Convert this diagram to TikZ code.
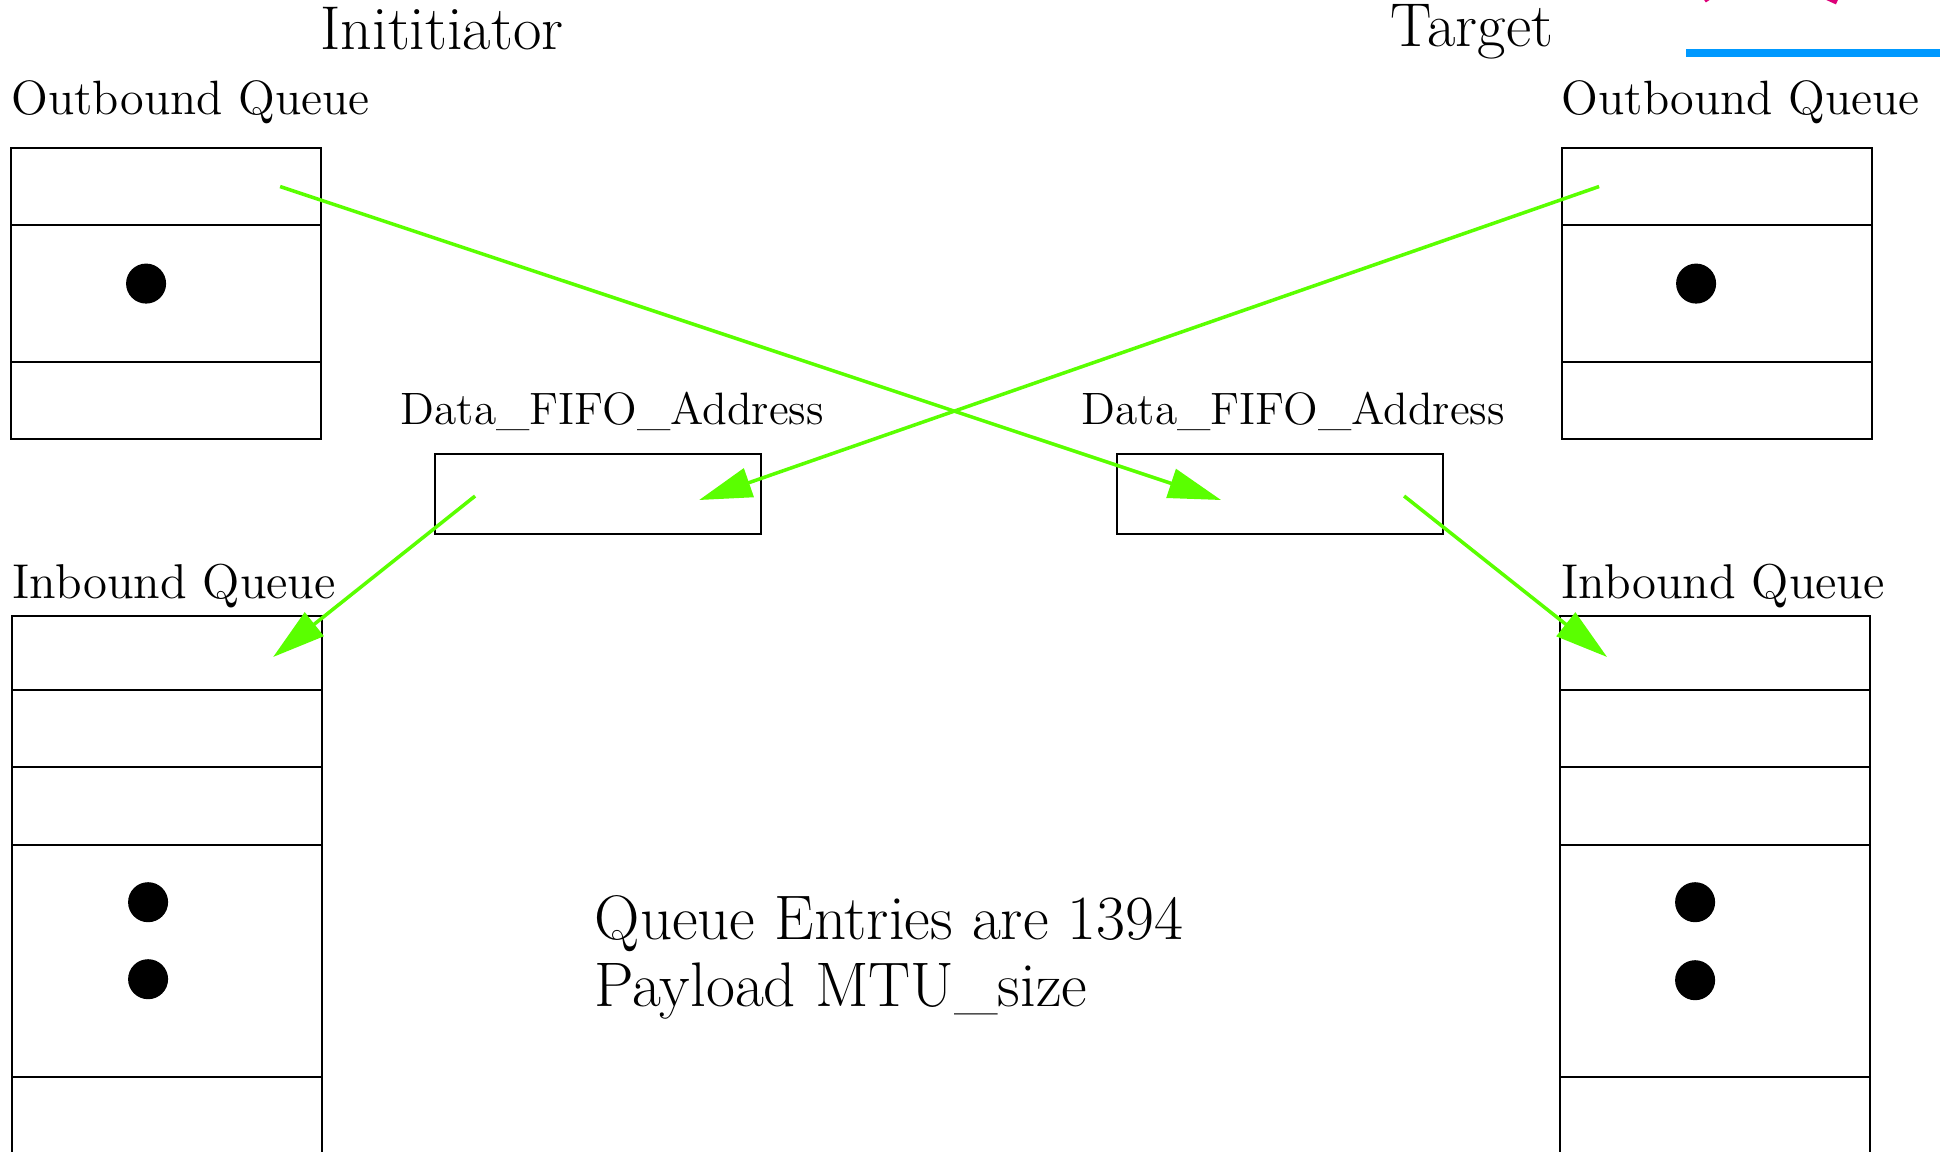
\documentclass[tikz,border=0pt]{standalone}
\usepackage{tikz}
\usetikzlibrary{arrows.meta,positioning,calc}
\definecolor{flowgreen}{RGB}{90,255,0}
\definecolor{markblue}{RGB}{0,153,255}
\definecolor{markpink}{RGB}{220,0,120}

\begin{document}
\begin{tikzpicture}[
  x=0.01cm, y=-0.01cm,
  node distance=0pt,
  cell/.style={rectangle, draw, line width=0.6pt, inner sep=0pt, outer sep=0pt, minimum width=31mm},
  fifo/.style={rectangle, draw, line width=0.6pt, inner sep=0pt, outer sep=0pt, minimum width=32.6mm, minimum height=8mm},
  qlabel/.style={anchor=base west, inner sep=0pt, font=\fontsize{13.7}{16}\selectfont},
  sidetitle/.style={anchor=base, inner sep=0pt, font=\fontsize{17.6}{20}\selectfont},
  qdot/.style={circle, fill, inner sep=0pt, minimum size=4mm},
  flow/.style={-{Triangle[length=15pt, width=8.5pt]}, line width=1pt, flowgreen}
]
\useasboundingbox (0,0) rectangle (1940,1152);
\node[sidetitle] (init) at (442,50) {Inititiator};
\node[sidetitle] (targ) at (1472,47) {Target};
\node[qlabel] (loutlbl) at (11,115) {Outbound Queue};
\node[qlabel] (routlbl) at (1561,115) {Outbound Queue};
\node[cell, minimum height=7.7mm, anchor=north west] (lout1) at (11,148) {};
\node[cell, minimum height=13.7mm, below=of lout1] (lout2) {};
\node[cell, minimum height=7.7mm, below=of lout2] (lout3) {};
\node[cell, minimum height=7.7mm, anchor=north west] (rout1) at (1562,148) {};
\node[cell, minimum height=13.7mm, below=of rout1] (rout2) {};
\node[cell, minimum height=7.7mm, below=of rout2] (rout3) {};
\node[qdot] (loutdot) at ($(lout2.center)+(-20,-10)$) {};
\node[qdot] (routdot) at ($(rout2.center)+(-21,-10)$) {};
\node[qlabel, font=\fontsize{12.9}{16}\selectfont] (lfifolbl) at (400,425) {Data\_FIFO\_Address};
\node[qlabel, font=\fontsize{12.9}{16}\selectfont] (rfifolbl) at (1081,425) {Data\_FIFO\_Address};
\node[fifo, anchor=north west] (lfifo) at (435,454) {};
\node[fifo, anchor=north west] (rfifo) at (1117,454) {};
\node[qlabel, font=\fontsize{13.9}{16}\selectfont] (linlbl) at (12,598) {Inbound Queue};
\node[qlabel, font=\fontsize{13.9}{16}\selectfont] (rinlbl) at (1561,598) {Inbound Queue};
\node[cell, minimum height=7.4mm, anchor=north west] (lin1) at (12,616) {};
\node[cell, minimum height=7.7mm, below=of lin1] (lin2) {};
\node[cell, minimum height=7.8mm, below=of lin2] (lin3) {};
\node[cell, minimum height=23.2mm, below=of lin3] (lin4) {};
\node[cell, minimum height=10mm, below=of lin4] (lin5) {};
\node[cell, minimum height=7.4mm, anchor=north west] (rin1) at (1560,616) {};
\node[cell, minimum height=7.7mm, below=of rin1] (rin2) {};
\node[cell, minimum height=7.8mm, below=of rin2] (rin3) {};
\node[cell, minimum height=23.2mm, below=of rin3] (rin4) {};
\node[cell, minimum height=10mm, below=of rin4] (rin5) {};
\node[qdot] (lindot1) at ($(lin4.center)+(-19,-59)$) {};
\node[qdot] (lindot2) at ($(lin4.center)+(-19,18)$) {};
\node[qdot] (rindot1) at ($(rin4.center)+(-20,-59)$) {};
\node[qdot] (rindot2) at ($(rin4.center)+(-20,19)$) {};
\node[anchor=north west, inner sep=0pt, align=left, font=\fontsize{17.9}{19}\selectfont] (note) at (594,895) {Queue Entries are 1394\\Payload MTU\_size};
\coordinate (lsend) at ($(lout1.center)+(114,0)$);
\coordinate (rfifoin) at ($(rfifo.center)+(-59,6)$);
\coordinate (rsend) at ($(rout1.center)+(-118,0)$);
\coordinate (lfifoin) at ($(lfifo.center)+(101,6)$);
\coordinate (lfifoout) at ($(lfifo.center)+(-123,2)$);
\coordinate (linin) at ($(lin1.center)+(106,4)$);
\coordinate (rfifoout) at ($(rfifo.center)+(124,2)$);
\coordinate (rinin) at ($(rin1.center)+(-108,4)$);
\draw[flow] (lsend) -- (rfifoin);
\draw[flow] (rsend) -- (lfifoin);
\draw[flow] (lfifoout) -- (linin);
\draw[flow] (rfifoout) -- (rinin);
\draw[markblue, line width=2pt] (1686,53) -- (1945,53);
\draw[markpink, line width=1.5pt] (1702,-8) -- (1708,1);
\draw[markpink, line width=1.5pt] (1815,-8) -- (1837,2);
\end{tikzpicture}
\end{document}
